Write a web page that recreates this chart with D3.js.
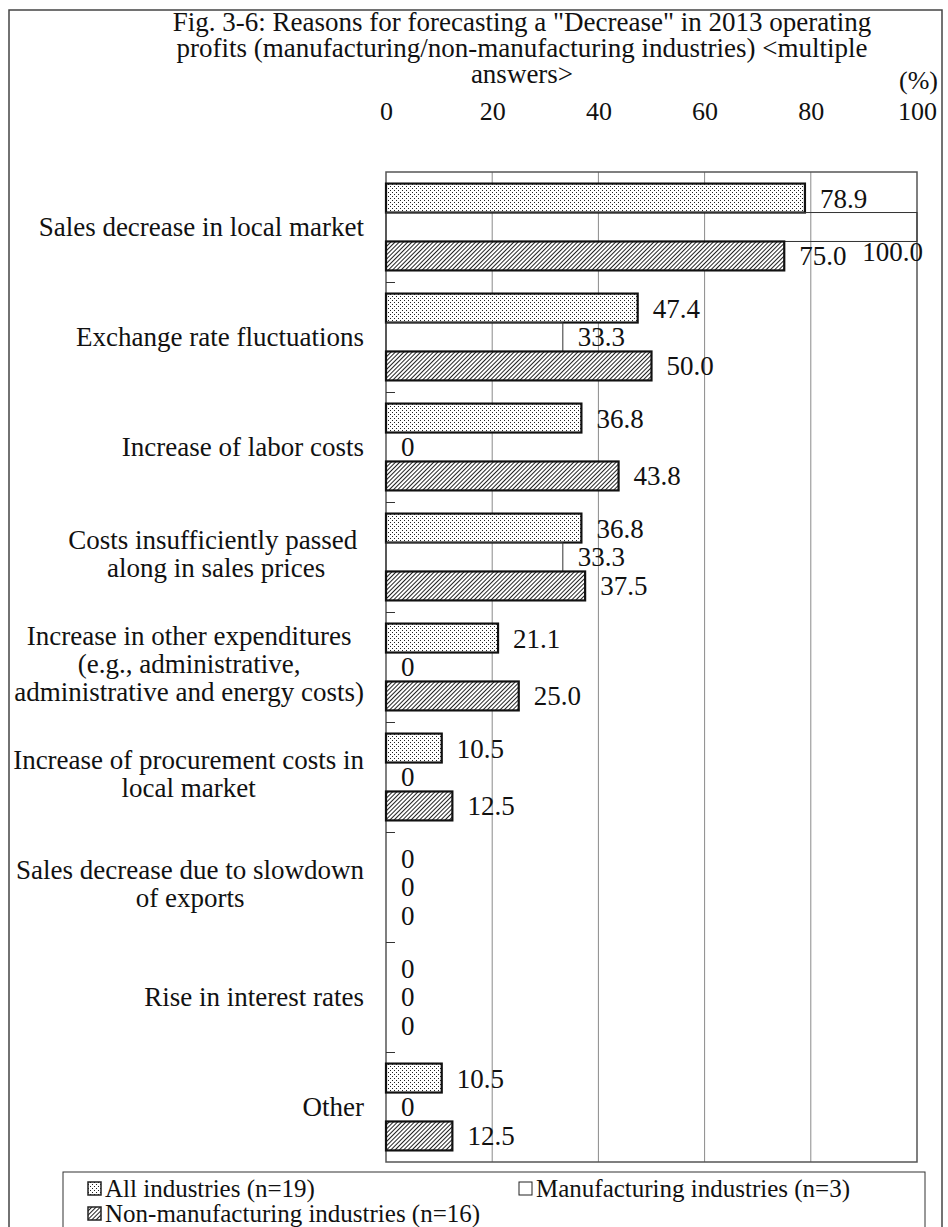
<!DOCTYPE html>
<html>
<head>
<meta charset="utf-8">
<script src="https://cdn.jsdelivr.net/npm/d3@7"></script>
<style>
  html, body { margin: 0; padding: 0; background: #fff; }
  svg { display: block; }
  text { font-family: "Liberation Serif", "Times New Roman", serif; fill: #111; }
</style>
</head>
<body>
<svg id="chart" width="948" height="1227"></svg>
<script>
// ---- data ----
const categories = [
  "Sales decrease in local market",
  "Exchange rate fluctuations",
  "Increase of labor costs",
  "Costs insufficiently passed along in sales prices",
  "Increase in other expenditures (e.g., administrative, administrative and energy costs)",
  "Increase of procurement costs in local market",
  "Sales decrease due to slowdown of exports",
  "Rise in interest rates",
  "Other"
];
const categoryLines = [
  ["Sales decrease in local market"],
  ["Exchange rate fluctuations"],
  ["Increase of labor costs"],
  ["Costs insufficiently passed ", "along in sales prices"],
  ["Increase in other expenditures", "(e.g., administrative,", "administrative and energy costs)"],
  ["Increase of procurement costs in", "local market"],
  ["Sales decrease due to slowdown", "of exports"],
  ["Rise in interest rates"],
  ["Other"]
];
const seriesNames = ["All industries (n=19)", "Manufacturing industries (n=3)", "Non-manufacturing industries (n=16)"];
const allIndustries = [78.9, 47.4, 36.8, 36.8, 21.1, 10.5, 0, 0, 10.5];
const manufacturing = [100.0, 33.3, 0, 33.3, 0, 0, 0, 0, 0];
const nonManufacturing = [75.0, 50.0, 43.8, 37.5, 25.0, 12.5, 0, 0, 12.5];
const xTicks = [0, 20, 40, 60, 80, 100];
const titleLines = [
  "Fig. 3-6: Reasons for forecasting a \"Decrease\"  in 2013 operating",
  "profits (manufacturing/non-manufacturing industries) <multiple",
  "answers>"
];
const unitLabel = "(%)";

// ---- layout ----
const svg = d3.select("#chart");
const plot = { left: 386, right: 917, top: 172, bottom: 1162 };
const FONT = 27;

// patterns
const defs = svg.append("defs");
const dots = defs.append("pattern").attr("id", "dots").attr("patternUnits", "userSpaceOnUse")
  .attr("width", 4).attr("height", 4);
dots.append("rect").attr("width", 4).attr("height", 4).attr("fill", "#fff");
dots.append("rect").attr("x", 0).attr("y", 0).attr("width", 1).attr("height", 1).attr("fill", "#222");
dots.append("rect").attr("x", 2).attr("y", 2).attr("width", 1).attr("height", 1).attr("fill", "#222");

const hatch = defs.append("pattern").attr("id", "hatch").attr("patternUnits", "userSpaceOnUse")
  .attr("width", 3).attr("height", 3).attr("patternTransform", "rotate(45)");
hatch.append("rect").attr("width", 3).attr("height", 3).attr("fill", "#fff");
hatch.append("rect").attr("x", 0).attr("y", 0).attr("width", 1).attr("height", 3).attr("fill", "#222");

const seriesStyle = [
  { fill: "url(#dots)", stroke: "#111", sw: 2.2 },
  { fill: "none", stroke: "#333", sw: 1 },
  { fill: "url(#hatch)", stroke: "#111", sw: 2.2 }
];

// outer border
svg.append("rect").attr("x", 9).attr("y", 10).attr("width", 933).attr("height", 1300)
  .attr("fill", "none").attr("stroke", "#444").attr("stroke-width", 1.5);

// title
const title = svg.append("text").attr("text-anchor", "middle").attr("font-size", FONT);
titleLines.forEach((t, i) => {
  title.append("tspan").attr("x", 522).attr("y", 31 + i * 26).text(t);
});
svg.append("text").attr("x", 938).attr("y", 89).attr("text-anchor", "end")
  .attr("font-size", 26).text(unitLabel);

// scales
const x = d3.scaleLinear().domain([0, 100]).range([plot.left, plot.right]);
const y = d3.scaleBand().domain(categories).range([plot.top, plot.bottom]).padding(0);
const yInner = d3.scaleBand().domain(seriesNames).range([0, y.bandwidth()]).paddingInner(0).paddingOuter(0.4);

// gridlines
svg.append("g").selectAll("line").data(xTicks.filter(d => d > 0 && d < 100)).join("line")
  .attr("x1", d => x(d)).attr("x2", d => x(d))
  .attr("y1", plot.top).attr("y2", plot.bottom)
  .attr("stroke", "#8a8a8a").attr("stroke-width", 1);

// plot border
svg.append("rect").attr("x", plot.left).attr("y", plot.top)
  .attr("width", plot.right - plot.left).attr("height", plot.bottom - plot.top)
  .attr("fill", "none").attr("stroke", "#555").attr("stroke-width", 1.5);

// x axis (top) tick labels
const xAxis = d3.axisTop(x).tickValues(xTicks).tickSize(0).tickPadding(0).tickFormat(d3.format("d"));
const gx = svg.append("g").attr("transform", `translate(0, 120)`).call(xAxis);
gx.select(".domain").remove();
gx.selectAll("text").attr("font-size", 26).attr("font-family", "Liberation Serif, Times New Roman, serif")
  .attr("fill", "#111").attr("dy", 0);

// y axis small inside ticks
svg.append("g").selectAll("line").data(categories.slice(1)).join("line")
  .attr("x1", plot.left).attr("x2", plot.left + 9)
  .attr("y1", d => y(d) + 0.5).attr("y2", d => y(d) + 0.5)
  .attr("stroke", "#333").attr("stroke-width", 1);

// category labels
const catG = svg.append("g");
categoryLines.forEach((lines, i) => {
  const cy = y(categories[i]) + y.bandwidth() / 2;
  const lh = 28;
  const t = catG.append("text").attr("font-size", FONT).attr("text-anchor", "middle");
  const spans = lines.map((ln, j) => t.append("tspan")
    .attr("y", cy + (j - (lines.length - 1) / 2) * lh - (lines.length > 1 ? 3 : 0))
    .attr("dy", "0.35em").text(ln));
  const widths = spans.map(s => s.node().getComputedTextLength());
  const maxW = d3.max(widths);
  const cx = 364 - maxW / 2;
  spans.forEach(s => s.attr("x", cx));
});

// bars + labels
const seriesData = [allIndustries, manufacturing, nonManufacturing];
const barsG = svg.append("g");
const labelsG = svg.append("g");
seriesData.forEach((vals, si) => {
  const st = seriesStyle[si];
  vals.forEach((v, ci) => {
    const by = y(categories[ci]) + yInner(seriesNames[si]);
    const bh = yInner.bandwidth();
    if (v > 0) {
      barsG.append("rect")
        .attr("x", x(0)).attr("y", by)
        .attr("width", x(v) - x(0)).attr("height", bh)
        .attr("fill", st.fill).attr("stroke", st.stroke).attr("stroke-width", st.sw);
    }
    const lbl = labelsG.append("text").attr("font-size", FONT)
      .attr("x", x(v) + 15).attr("y", by + bh / 2).attr("dy", "0.35em")
      .text(v === 0 ? "0" : v.toFixed(1));
    const w = lbl.node().getComputedTextLength();
    if (x(v) + 15 + w > plot.right + 6) {
      lbl.attr("x", plot.right + 6 - w).attr("y", by + bh / 2 + 25);
    }
  });
});

// legend
const lg = svg.append("g");
lg.append("rect").attr("x", 63).attr("y", 1172).attr("width", 862).attr("height", 100)
  .attr("fill", "#fff").attr("stroke", "#333").attr("stroke-width", 1);
const legendPos = [
  { x: 88, y: 1197 },
  { x: 519, y: 1197 },
  { x: 88, y: 1222 }
];
seriesNames.forEach((name, i) => {
  const p = legendPos[i];
  const st = seriesStyle[i];
  lg.append("rect").attr("x", p.x).attr("y", p.y - 15).attr("width", 13).attr("height", 13)
    .attr("fill", st.fill === "none" ? "#fff" : st.fill).attr("stroke", "#222").attr("stroke-width", i === 1 ? 1 : 1.5);
  lg.append("text").attr("x", p.x + 17).attr("y", p.y).attr("font-size", 25).text(name);
});
</script>
</body>
</html>
